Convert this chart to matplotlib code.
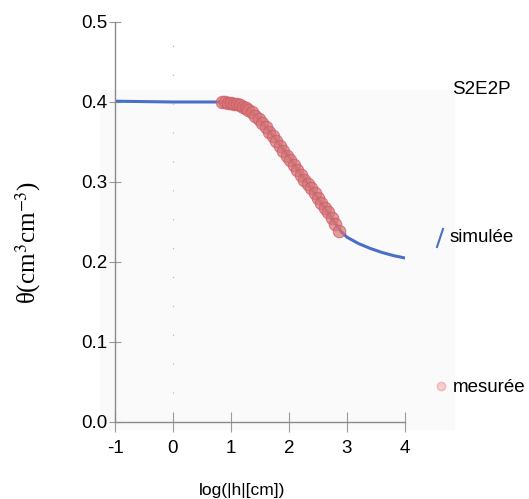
import matplotlib
matplotlib.use("Agg")
import matplotlib.pyplot as plt
from matplotlib.lines import Line2D
from matplotlib.patches import Rectangle

# simulated retention curve
sim_x = [-1, 0, 0.5, 0.8, 1.0, 1.2, 1.4, 1.6, 1.8, 2.0, 2.2, 2.4, 2.6, 2.8, 2.9, 3.0, 3.2, 3.4, 3.6, 3.8, 4.0]
sim_y = [0.401, 0.400, 0.400, 0.400, 0.399, 0.394, 0.385, 0.369, 0.351, 0.331, 0.310, 0.290, 0.269, 0.248,
         0.238, 0.231, 0.223, 0.217, 0.212, 0.208, 0.205]

# measured points
meas_x = [0.85, 0.9, 0.95, 1.0, 1.05, 1.1, 1.15, 1.2, 1.25, 1.3, 1.36, 1.42, 1.48, 1.54, 1.6, 1.66, 1.72, 1.78,
          1.84, 1.9, 1.96, 2.02, 2.08, 2.14, 2.2, 2.26, 2.32, 2.38, 2.44, 2.5, 2.56, 2.62, 2.68, 2.74, 2.8, 2.86]
meas_y = [0.400, 0.400, 0.399, 0.399, 0.398, 0.397, 0.396, 0.394, 0.392, 0.390, 0.387, 0.383, 0.379, 0.374,
          0.369, 0.363, 0.357, 0.351, 0.345, 0.339, 0.333, 0.327, 0.321, 0.315, 0.309, 0.303, 0.297, 0.292,
          0.286, 0.280, 0.274, 0.268, 0.262, 0.255, 0.247, 0.239]

xticks = [-1, 0, 1, 2, 3, 4]
yticks = [0.0, 0.1, 0.2, 0.3, 0.4, 0.5]

plt.rcParams["mathtext.fontset"] = "stix"

W, H = 529, 499
fig = plt.figure(figsize=(W / 100, H / 100), dpi=100)

# faint panel behind the plot
fig.patches.append(Rectangle((100 / W, 1 - 430 / H), 355 / W, 340 / H, transform=fig.transFigure,
                             facecolor="#fbfafa", edgecolor="none", zorder=-10))

ax = fig.add_axes([115 / W, 1 - 422 / H, 290 / W, 400 / H])
ax.patch.set_alpha(0)
ax.set_xlim(-1, 4)
ax.set_ylim(0, 0.5)

ax.axvline(0, color="#b0b0b0", lw=0.8, ls=(0, (1, 25)), zorder=1)

ax.plot(sim_x, sim_y, color="#4a6fc8", lw=2.2, zorder=2)
ax.plot(meas_x, meas_y, ls="none", marker="o", ms=9, mfc="#d87474", mec="#cc5866", mew=0.8,
        alpha=0.7, zorder=3)

for s in ["top", "right"]:
    ax.spines[s].set_visible(False)
for s in ["left", "bottom"]:
    ax.spines[s].set_color("#8a8a8a")
    ax.spines[s].set_linewidth(1.0)

ax.set_xticks(xticks)
ax.set_xticklabels([str(t) for t in xticks])
ax.set_yticks(yticks)
ax.set_yticklabels([f"{t:.1f}" for t in yticks])
ax.tick_params(axis="x", direction="inout", length=14, color="#9a9a9a", labelsize=13.5, pad=6)
ax.tick_params(axis="y", direction="inout", length=9, color="#9a9a9a", labelsize=13.5, pad=1)
for lab in ax.get_xticklabels() + ax.get_yticklabels():
    lab.set_family("Liberation Sans")

ax.set_xlabel("log(|h|[cm])", family="Liberation Sans", fontsize=12.5)
ax.xaxis.set_label_coords(127 / 290, -61 / 400)
ax.set_ylabel("θ(cm$^{3}$cm$^{-3}$)", family="Liberation Serif", fontsize=18)
ax.yaxis.set_label_coords(-72 / 290, 180 / 400)

# legend-like annotations
fig.text(452 / W, 1 - 89 / H, "S2E2P", family="Liberation Sans", fontsize=13.5, va="center")
fig.add_artist(Line2D([437 / W, 443 / W], [1 - 247 / H, 1 - 229 / H], color="#4a6fc8", lw=1.5))
fig.text(450 / W, 1 - 238 / H, "simulée", family="Liberation Sans", fontsize=13.5, va="center")
fig.add_artist(Line2D([441 / W], [1 - 386 / H], marker="o", ms=6, mfc="#f4c8c8", mec="#f0b0b8", alpha=0.9))
fig.text(453 / W, 1 - 388 / H, "mesurée", family="Liberation Sans", fontsize=13.5, va="center")

fig.savefig("out.png", dpi=100)
